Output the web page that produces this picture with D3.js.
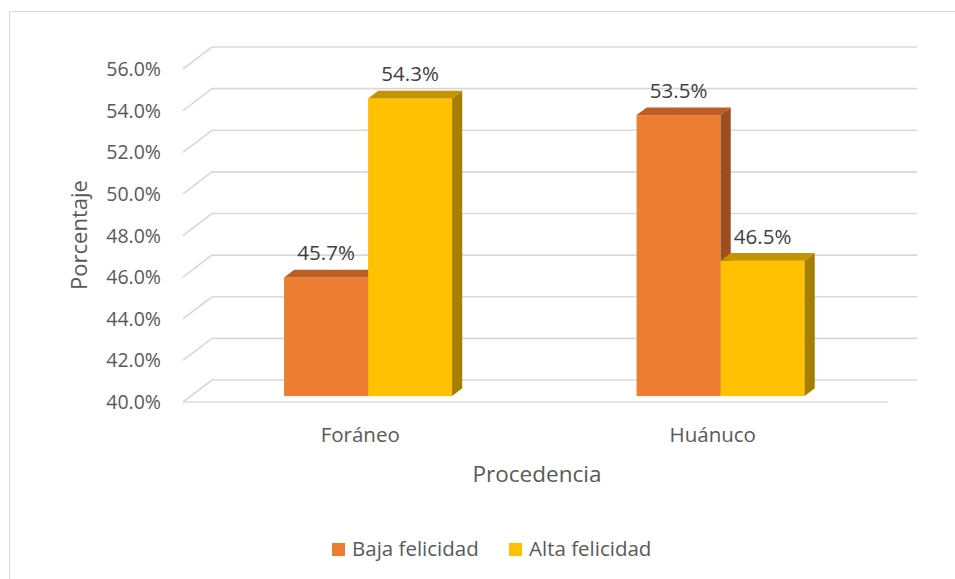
<!DOCTYPE html>
<html>
<head>
<meta charset="utf-8">
<script src="https://cdn.jsdelivr.net/npm/d3@7"></script>
<style>
  body { margin: 0; background: #fff; }
  text { font-family: "Open Sans", "Noto Sans", sans-serif; }
</style>
</head>
<body>
<svg width="955" height="579"></svg>
<script>
const categories = ['Foráneo', 'Huánuco']
const seriesNames = ['Baja felicidad', 'Alta felicidad']
const baja = [45.7, 53.5]
const alta = [54.3, 46.5]
const yTicks = [40, 42, 44, 46, 48, 50, 52, 54, 56]

const colors = {
  'Baja felicidad': { front: '#ED7D31', top: '#BF5D24', side: '#9C4E1E' },
  'Alta felicidad': { front: '#FFC000', top: '#C49400', side: '#A67E00' }
}

const svg = d3.select('svg')

// chart frame
svg.append('rect')
  .attr('x', 9.5).attr('y', 11.5)
  .attr('width', 960).attr('height', 600)
  .attr('fill', 'none')
  .attr('stroke', '#d9d9d9')
  .attr('stroke-width', 1)

// depth of the floor (pseudo 3d)
const depthX = 29
const depthY = -22
const barFront = 0.27
const barBack = 0.62

const x = d3.scaleBand().domain(categories).range([183, 888])
const xs = d3.scaleBand().domain(seriesNames).range([0, 168])
const y = d3.scaleLinear().domain([40, 56]).range([402, 69])

// gridlines: left wall diagonal + back wall line
const grid = svg.append('g')
yTicks.forEach(t => {
  const yy = y(t)
  grid.append('path')
    .attr('d', `M183,${yy} L${183 + depthX},${yy + depthY} L${888 + depthX},${yy + depthY}`)
    .attr('fill', 'none')
    .attr('stroke', '#d9d9d9')
    .attr('stroke-width', 1.6)
})
// floor front edge
svg.append('line')
  .attr('x1', 183).attr('x2', 888)
  .attr('y1', y(40)).attr('y2', y(40))
  .attr('stroke', '#d9d9d9')
  .attr('stroke-width', 1.6)

// tick labels
svg.append('g').selectAll('text')
  .data(yTicks)
  .join('text')
  .attr('x', 161)
  .attr('y', d => y(d))
  .attr('dy', '0.36em')
  .attr('text-anchor', 'end')
  .attr('fill', '#595959')
  .attr('font-size', 19.5)
  .text(d => d3.format('.1f')(d) + '%')

// bars
const rows = []
categories.forEach((c, i) => {
  rows.push({ cat: c, s: seriesNames[0], v: baja[i] })
  rows.push({ cat: c, s: seriesNames[1], v: alta[i] })
})

const fx = barFront * depthX, fy = barFront * depthY
const bx = (barBack - barFront) * depthX, by = (barBack - barFront) * depthY
const pairOffset = (x.bandwidth() - xs.range()[1]) / 2 + 1

const bars = svg.append('g')
rows.forEach(d => {
  const x0 = x(d.cat) + pairOffset + xs(d.s) + fx
  const x1 = x0 + xs.bandwidth()
  const yTop = y(d.v) + fy
  const yBot = y(40) + fy
  const col = colors[d.s]
  bars.append('rect')
    .attr('x', x0).attr('y', yTop)
    .attr('width', x1 - x0).attr('height', yBot - yTop)
    .attr('fill', col.front)
  bars.append('path')
    .attr('d', `M${x0},${yTop} L${x0 + bx},${yTop + by} L${x1 + bx},${yTop + by} L${x1},${yTop} Z`)
    .attr('fill', col.top)
  bars.append('path')
    .attr('d', `M${x1},${yTop} L${x1 + bx},${yTop + by} L${x1 + bx},${yBot + by} L${x1},${yBot} Z`)
    .attr('fill', col.side)
  bars.append('text')
    .attr('x', (x0 + x1) / 2)
    .attr('y', yTop - 17)
    .attr('text-anchor', 'middle')
    .attr('fill', '#404040')
    .attr('font-size', 20.5)
    .text(d3.format('.1f')(d.v) + '%')
})

// category labels
svg.append('g').selectAll('text')
  .data(categories)
  .join('text')
  .attr('x', d => x(d) + x.bandwidth() / 2 + 1)
  .attr('y', 442)
  .attr('text-anchor', 'middle')
  .attr('fill', '#595959')
  .attr('font-size', 20.5)
  .text(d => d)

// axis titles
svg.append('text')
  .attr('x', 537).attr('y', 482)
  .attr('text-anchor', 'middle')
  .attr('fill', '#595959')
  .attr('font-size', 22.5)
  .text('Procedencia')

svg.append('text')
  .attr('transform', 'translate(87,235) rotate(-90)')
  .attr('text-anchor', 'middle')
  .attr('fill', '#595959')
  .attr('font-size', 22)
  .text('Porcentaje')

// legend
const legendX = [332, 509]
const legend = svg.append('g')
seriesNames.forEach((s, i) => {
  legend.append('rect')
    .attr('x', legendX[i]).attr('y', 543)
    .attr('width', 13).attr('height', 13)
    .attr('fill', colors[s].front)
  legend.append('text')
    .attr('x', legendX[i] + 20).attr('y', 556)
    .attr('fill', '#595959')
    .attr('font-size', 20.5)
    .text(s)
})
</script>
</body>
</html>
